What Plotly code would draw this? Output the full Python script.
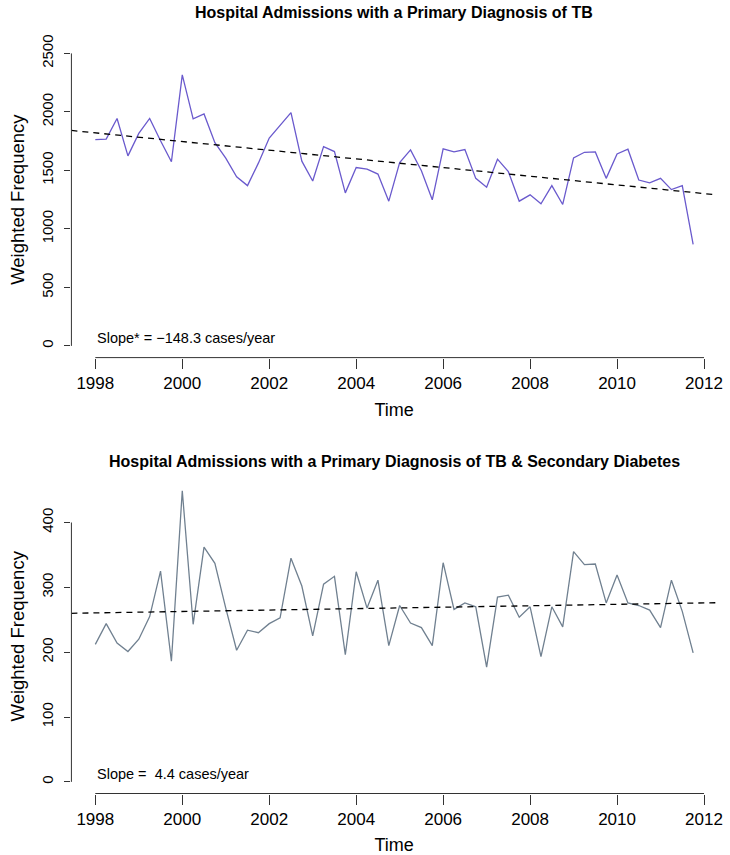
import plotly.graph_objects as go

# ---------------- data ----------------
quarters = [1998 + i * 0.25 for i in range(56)]

tb_values = [1763, 1768, 1944, 1624, 1816, 1944, 1754, 1574,
             2317, 1941, 1983, 1737, 1605, 1446, 1370, 1562,
             1777, 1887, 1994, 1579, 1410, 1703, 1661, 1308,
             1525, 1511, 1469, 1237, 1568, 1675, 1497, 1249,
             1684, 1658, 1678, 1432, 1356, 1596, 1489, 1237,
             1291, 1215, 1370, 1209, 1607, 1655, 1658, 1432,
             1641, 1681, 1418, 1393, 1432, 1336, 1370, 867]

tbdm_values = [212, 244, 214, 201, 220, 255, 325, 186,
               449, 243, 362, 337, 268, 203, 234, 230,
               244, 253, 345, 302, 225, 305, 317, 196,
               324, 268, 311, 210, 272, 245, 238, 210,
               338, 266, 276, 270, 177, 285, 288, 254,
               270, 193, 270, 239, 355, 335, 336, 276,
               319, 276, 272, 265, 238, 311, 263, 199]

# trend fits (slope in cases/year of annual totals -> per-quarter series slope = /4)
tb_slope_annual = -148.3
tb_intercept_1998 = 1821
tbdm_slope_annual = 4.4
tbdm_intercept_1998 = 260.6

x_ticks = [1998, 2000, 2002, 2004, 2006, 2008, 2010, 2012]
tb_y_ticks = [0, 500, 1000, 1500, 2000, 2500]
tbdm_y_ticks = [0, 100, 200, 300, 400]

title_top = "Hospital Admissions with a Primary Diagnosis of TB"
title_bottom = "Hospital Admissions with a Primary Diagnosis of TB & Secondary Diabetes"
label_top = "Slope* = \u2212148.3 cases/year"
label_bottom = "Slope =  4.4 cases/year"

# ---------------- layout helpers ----------------
W, H = 730, 855
FONT = "Liberation Sans, Arial, Helvetica, sans-serif"

def ext(lo, hi, f=0.04):
    d = (hi - lo) * f
    return [lo - d, hi + d]

xr = ext(min(quarters), max(quarters))
yr_top = ext(0, 2500)
yr_bot = ext(0, max(tbdm_values))

def py(p):  # pixel from top -> paper fraction
    return 1 - p / H

x_dom = [72 / W, 723 / W]
top_dom = [py(353.5), py(35)]
bot_dom = [py(793), py(476)]

fig = go.Figure()

fig.add_trace(go.Scatter(x=quarters, y=tb_values, mode="lines",
                         line=dict(color="#6A5ACD", width=1.3),
                         xaxis="x", yaxis="y", showlegend=False))
fig.add_trace(go.Scatter(x=xr, y=[tb_intercept_1998 + tb_slope_annual / 4 * (v - 1998) for v in xr],
                         mode="lines", line=dict(color="black", width=1.3, dash="6px,5px"),
                         xaxis="x", yaxis="y", showlegend=False))

fig.add_trace(go.Scatter(x=quarters, y=tbdm_values, mode="lines",
                         line=dict(color="#708090", width=1.3),
                         xaxis="x2", yaxis="y2", showlegend=False))
fig.add_trace(go.Scatter(x=xr, y=[tbdm_intercept_1998 + tbdm_slope_annual / 4 * (v - 1998) for v in xr],
                         mode="lines", line=dict(color="black", width=1.3, dash="6px,5px"),
                         xaxis="x2", yaxis="y2", showlegend=False))

xtickfont = dict(family=FONT, size=17, color="black")
ytickfont = dict(family=FONT, size=15, color="black")
titlefont = dict(family=FONT, size=18, color="black")
ytitlefont = dict(family=FONT, size=18.5, color="black")

def xaxis(anchor):
    return dict(domain=x_dom, range=xr, anchor=anchor, showgrid=False, zeroline=False,
                showline=False, ticks="outside", ticklen=10, tickcolor="#333", tickwidth=1,
                tickvals=x_ticks, ticktext=[str(t) for t in x_ticks], tickfont=xtickfont,
                ticklabeloverflow="allow", ticklabelstandoff=0,
                title=dict(text="Time", font=titlefont, standoff=11))

def yaxis(anchor, dom, rng, ticks):
    return dict(domain=dom, range=rng, anchor=anchor, showgrid=False, zeroline=False,
                showline=False, ticks="outside", ticklen=6, tickcolor="#333", tickwidth=1,
                tickvals=ticks, ticktext=[str(t) for t in ticks], tickangle=-90,
                tickfont=ytickfont, ticklabelstandoff=5,
                title=dict(text="Weighted Frequency", font=ytitlefont, standoff=9))

fig.update_layout(
    width=W, height=H,
    margin=dict(l=0, r=0, t=0, b=0),
    paper_bgcolor="white", plot_bgcolor="white",
    font=dict(family=FONT, color="black"),
    xaxis=xaxis("y"),
    yaxis=yaxis("x", top_dom, yr_top, tb_y_ticks),
    xaxis2=xaxis("y2"),
    yaxis2=yaxis("x2", bot_dom, yr_bot, tbdm_y_ticks),
)

# R-style axis lines spanning first to last tick
shapes = []
for xa, ya, yt in (("x", "y", tb_y_ticks), ("x2", "y2", tbdm_y_ticks)):
    shapes.append(dict(type="line", xref=xa, yref=ya + " domain",
                       x0=x_ticks[0], x1=x_ticks[-1], y0=0, y1=0,
                       line=dict(color="#333", width=1)))
    shapes.append(dict(type="line", xref=xa + " domain", yref=ya,
                       x0=0, x1=0, y0=yt[0], y1=yt[-1],
                       line=dict(color="#333", width=1)))
fig.update_layout(shapes=shapes)

annotations = [
    dict(text="<b>" + title_top + "</b>", xref="paper", yref="paper",
         x=(x_dom[0] + x_dom[1]) / 2, y=py(6), xanchor="center", yanchor="middle",
         showarrow=False, font=dict(family=FONT, size=16, color="black")),
    dict(text="<b>" + title_bottom + "</b>", xref="paper", yref="paper",
         x=(x_dom[0] + x_dom[1]) / 2, y=py(458), xanchor="center", yanchor="middle",
         showarrow=False, font=dict(family=FONT, size=16, color="black")),
    dict(text=label_top, xref="x", yref="y", x=x_ticks[0], y=0, xanchor="left",
         yanchor="middle", yshift=8, showarrow=False,
         font=dict(family=FONT, size=14.5, color="black")),
    dict(text=label_bottom, xref="x2", yref="y2", x=x_ticks[0], y=0, xanchor="left",
         yanchor="middle", yshift=8, showarrow=False,
         font=dict(family=FONT, size=14.5, color="black")),
]
fig.update_layout(annotations=annotations)

fig.write_html("out.html", config={"displayModeBar": False},
               post_script="document.body.style.margin='0';")
